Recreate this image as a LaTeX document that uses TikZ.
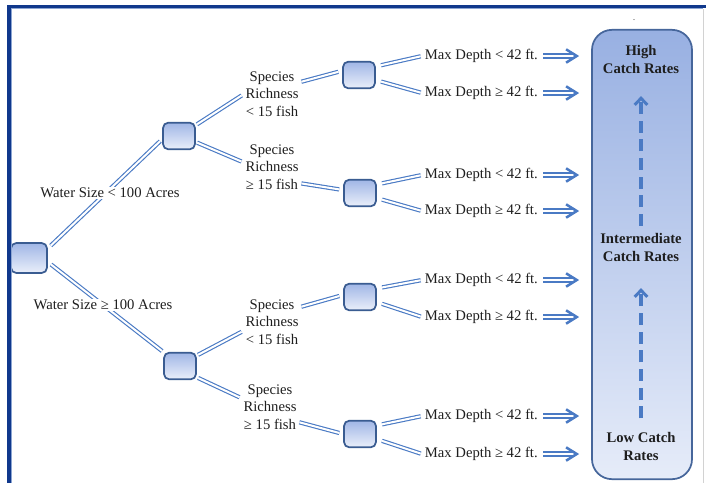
\documentclass[tikz,border=0pt]{standalone}
\usepackage{fontspec}
\setmainfont{Liberation Serif}
\usetikzlibrary{arrows.meta}
\definecolor{linkblue}{RGB}{74,122,196}
\definecolor{boxedge}{RGB}{58,92,145}
\definecolor{boxtop}{RGB}{160,182,230}
\definecolor{boxbot}{RGB}{234,239,250}
\definecolor{frameblue}{RGB}{16,56,140}
\definecolor{framelight}{RGB}{140,165,210}
\definecolor{paneltop}{RGB}{152,176,226}
\definecolor{panelbot}{RGB}{230,236,249}
\definecolor{paneledge}{RGB}{70,102,155}
\definecolor{txt}{RGB}{30,30,30}
\begin{document}
\begin{tikzpicture}[x=0.75pt,y=-0.75pt,
  dbox/.style={draw=boxedge, line width=1.3pt, rounded corners=4pt, top color=boxtop, bottom color=boxbot, minimum width=24pt, minimum height=20pt, inner sep=0pt},
  link/.style={draw=linkblue, double=white, double distance=1.5pt, line width=0.85pt},
  lbl/.style={font=\fontsize{11}{13}\selectfont, text=txt, align=center, inner sep=1pt},
  dlbl/.style={font=\fontsize{11}{13}\selectfont, text=txt, anchor=west, inner sep=2pt},
  bigarrow/.style={draw=linkblue, double=white, double distance=1.8pt, line width=1.1pt, shorten <=2pt, shorten >=12pt,
    postaction={draw=linkblue, double=none, line width=1.9pt, dash pattern=on 0pt off 200pt, shorten <=0pt, shorten >=9pt,
      -{Straight Barb[length=8pt, width=10pt, line width=1.9pt]}}},
  panelbox/.style={draw=paneledge, line width=1.3pt, rounded corners=15pt, top color=paneltop, bottom color=panelbot, minimum width=75pt, minimum height=337pt, inner sep=0pt},
  ptext/.style={font=\bfseries\fontsize{11}{13.5}\selectfont, text=txt, align=center, inner sep=0pt},
  dasharrow/.style={draw=linkblue, line width=2.6pt, dash pattern=on 9pt off 5pt, -{Straight Barb[length=5pt, width=9.5pt, line width=2.2pt]}}
]
\useasboundingbox (0,0) rectangle (706,483);

% decision boxes
\node[dbox, minimum width=27pt, minimum height=22.5pt] (root) at (29,258) {};
\node[dbox] (b1u) at (179,136) {};
\node[dbox] (b1l) at (180,366) {};
\node[dbox] (b2a) at (359,75) {};
\node[dbox] (b2b) at (360,193) {};
\node[dbox] (b2c) at (360,297) {};
\node[dbox] (b2d) at (360,434) {};

% species richness labels
\node[lbl] (sr1) at (272,94) {Species\\Richness\\< 15 fish};
\node[lbl] (sr2) at (272,167) {Species\\Richness\\≥ 15 fish};
\node[lbl] (sr3) at (272,322) {Species\\Richness\\< 15 fish};
\node[lbl] (sr4) at (270,407) {Species\\Richness\\≥ 15 fish};

% max depth labels
\node[dlbl] (m1) at (422,56) {Max Depth < 42 ft.};
\node[dlbl] (m2) at (422,93) {Max Depth ≥ 42 ft.};
\node[dlbl] (m3) at (422,175) {Max Depth < 42 ft.};
\node[dlbl] (m4) at (422,211) {Max Depth ≥ 42 ft.};
\node[dlbl] (m5) at (422,280) {Max Depth < 42 ft.};
\node[dlbl] (m6) at (422,317) {Max Depth ≥ 42 ft.};
\node[dlbl] (m7) at (422,416) {Max Depth < 42 ft.};
\node[dlbl] (m8) at (422,454) {Max Depth ≥ 42 ft.};

% right panel
\node[panelbox] (panel) at (642,254.5) {};
\node[ptext] (high) at (641,59) {High\\Catch Rates};
\node[ptext] (inter) at (641,247) {Intermediate\\Catch Rates};
\node[ptext] (low) at (641,446) {Low Catch\\Rates};
\node[font=\fontsize{6}{6}\selectfont, inner sep=0pt] (dot) at (634,20) {.};

% links
\draw[link, shorten <=3pt, shorten >=2pt] (root.27) -- (b1u.191);
\draw[link, shorten <=3pt, shorten >=1pt] (root.-12) -- (b1l.140);
\draw[link, shorten <=1pt, shorten >=2pt] (b1u.33) -- (sr1.west);
\draw[link, shorten <=1pt, shorten >=2pt] (b1u.-20) -- (sr2.171);
\draw[link, shorten <=1pt, shorten >=2pt] (b1l.32) -- (sr3.197);
\draw[link, shorten <=1pt, shorten >=2pt] (b1l.-34) -- (sr4.163);
\draw[link, shorten <=1pt, shorten >=3pt] (sr1.23) -- (b2a.166);
\draw[link, shorten <=1pt, shorten >=3pt] (sr2.-30) -- (b2b.170);
\draw[link, shorten <=1pt, shorten >=3pt] (sr3.28) -- (b2c.173);
\draw[link, shorten <=1pt, shorten >=3pt] (sr4.-28) -- (b2d.180);
\draw[link, shorten <=4pt, shorten >=1pt] (b2a.27) -- (m1.west);
\draw[link, shorten <=4pt, shorten >=1pt] (b2a.-17) -- (m2.west);
\draw[link, shorten <=4pt, shorten >=1pt] (b2b.27) -- (m3.west);
\draw[link, shorten <=4pt, shorten >=1pt] (b2b.-17) -- (m4.west);
\draw[link, shorten <=4pt, shorten >=1pt] (b2c.27) -- (m5.west);
\draw[link, shorten <=4pt, shorten >=1pt] (b2c.-17) -- (m6.west);
\draw[link, shorten <=4pt, shorten >=1pt] (b2d.27) -- (m7.west);
\draw[link, shorten <=4pt, shorten >=1pt] (b2d.-17) -- (m8.west);

% water size labels over the links
\node[lbl, fill=white] (ws1) at (110,193) {Water Size < 100 Acres};
\node[lbl, fill=white] (ws2) at (103,305) {Water Size ≥ 100 Acres};

% arrows to panel
\foreach \m in {m1,m2,m3,m4,m5,m6,m7,m8}
  \draw[bigarrow] (\m.east) -- (\m.east -| panel.west);

% dashed arrows inside panel
\draw[dasharrow, shorten <=5pt, shorten >=17pt] (inter.north) -- (high.south);
\draw[dasharrow, shorten <=10pt, shorten >=20pt] (low.north) -- (inter.south);

% frame
\draw[frameblue, line width=2.5pt] (7,6.7) -- (706,6.7);
\draw[frameblue, line width=2.5pt] (9,5) -- (9,483);
\draw[framelight, line width=0.75pt] (11.3,8.8) -- (11.3,483);
\draw[framelight, line width=0.75pt] (11.3,8.8) -- (703,8.8);
\draw[gray!35, line width=0.75pt] (703.5,9) -- (703.5,483);
\end{tikzpicture}
\end{document}
